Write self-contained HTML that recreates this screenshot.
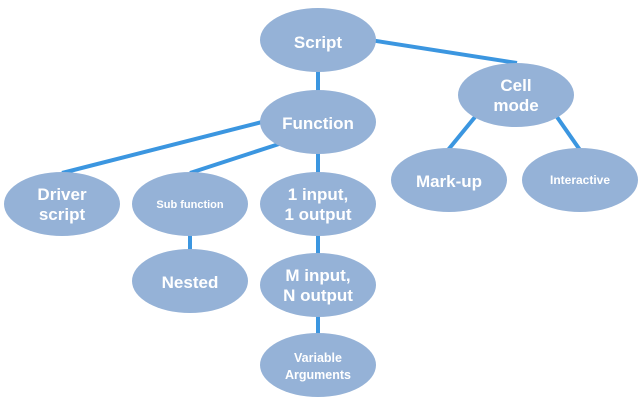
<!DOCTYPE html>
<html><head><meta charset="utf-8"><style>
html,body{margin:0;padding:0;background:#fff;width:640px;height:400px;overflow:hidden}
text{font-family:"Liberation Sans Narrow","Liberation Sans",sans-serif;font-weight:bold;fill:#fff;text-anchor:middle}
</style></head><body>
<svg width="640" height="400" viewBox="0 0 640 400" xmlns="http://www.w3.org/2000/svg">
<g stroke="#3b96e0" stroke-width="4" fill="none">
<line x1="370" y1="40" x2="517" y2="63"/>
<line x1="318" y1="70" x2="318" y2="94"/>
<line x1="262" y1="122" x2="62" y2="173"/>
<line x1="279" y1="144" x2="190" y2="173"/>
<line x1="318" y1="150" x2="318" y2="175"/>
<line x1="475" y1="117" x2="448" y2="150"/>
<line x1="557" y1="117" x2="580" y2="150"/>
<line x1="190" y1="232" x2="190" y2="252"/>
<line x1="318" y1="232" x2="318" y2="256"/>
<line x1="318" y1="313" x2="318" y2="337"/>
</g>
<g fill="#95b2d7">
<ellipse cx="318" cy="40" rx="58" ry="32"/>
<ellipse cx="318" cy="122" rx="58" ry="32"/>
<ellipse cx="516" cy="95" rx="58" ry="32"/>
<ellipse cx="62" cy="204" rx="58" ry="32"/>
<ellipse cx="190" cy="204" rx="58" ry="32"/>
<ellipse cx="318" cy="204" rx="58" ry="32"/>
<ellipse cx="449" cy="180" rx="58" ry="32"/>
<ellipse cx="580" cy="180" rx="58" ry="32"/>
<ellipse cx="190" cy="281" rx="58" ry="32"/>
<ellipse cx="318" cy="285" rx="58" ry="32"/>
<ellipse cx="318" cy="365" rx="58" ry="32"/>
</g>
<g font-size="17">
<text x="318" y="48">Script</text>
<text x="318" y="129">Function</text>
<text x="516" y="91">Cell</text>
<text x="516" y="111">mode</text>
<text x="62" y="200">Driver</text>
<text x="62" y="220">script</text>
<text x="318" y="200">1 input,</text>
<text x="318" y="220">1 output</text>
<text x="449" y="187">Mark-up</text>
<text x="190" y="288">Nested</text>
<text x="318" y="281">M input,</text>
<text x="318" y="301">N output</text>
</g>
<text x="190" y="208" font-size="11">Sub function</text>
<text x="580" y="184" font-size="12">Interactive</text>
<text x="318" y="362" font-size="12.5">Variable</text>
<text x="318" y="379" font-size="12.5">Arguments</text>
</svg>
</body></html>
